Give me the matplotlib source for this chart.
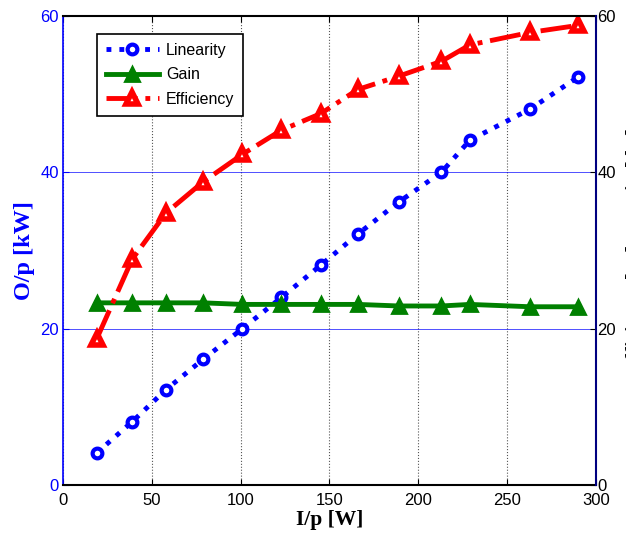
import numpy as np
import matplotlib
matplotlib.use('Agg')
import matplotlib.pyplot as plt

plt.rcParams['font.family'] = 'Liberation Sans'

# ==================== data ====================
input_w = [19, 39, 58, 79, 101, 123, 145, 166, 189, 213, 229, 263, 290]
linearity = [4.1, 8.1, 12.2, 16.1, 20.0, 24.0, 28.1, 32.1, 36.2, 40.0, 44.1, 48.1, 52.2]
gain = [23.3, 23.3, 23.3, 23.3, 23.1, 23.1, 23.1, 23.1, 22.9, 22.9, 23.1, 22.8, 22.8]
efficiency = [18.7, 28.9, 34.8, 38.8, 42.3, 45.4, 47.5, 50.6, 52.3, 54.2, 56.3, 57.9, 58.8]

x_ticks = [0, 50, 100, 150, 200, 250, 300]
y_ticks = [0, 20, 40, 60]

# ==================== figure ====================
fig = plt.figure(figsize=(6.26, 5.4), dpi=100)
ax = fig.add_axes([0.1006, 0.1019, 0.8514, 0.8685])

ax.plot(input_w, linearity, linestyle=':', color='#0000FF', lw=3.5,
        marker='o', ms=7, mfc='white', mec='#0000FF', mew=3, label='Linearity')
ax.plot(input_w, gain, linestyle='-', color='#008000', lw=3.5,
        marker='^', ms=10.5, mfc='#008000', mec='#008000', mew=2, label='Gain')
ax.plot(input_w, efficiency, linestyle='-.', color='#FF0000', lw=3.5,
        marker='^', ms=9, mfc='white', mec='#FF0000', mew=4, label='Efficiency')

ax.set_xlim(0, 300)
ax.set_ylim(0, 60)
ax.set_xticks(x_ticks)
ax.set_yticks(y_ticks)

# grid: dotted grey verticals, thin blue horizontals
ax.xaxis.grid(True, color='#555555', linestyle=':', linewidth=0.8)
ax.yaxis.grid(True, color='#0000FF', linestyle='-', linewidth=0.6, alpha=0.8)
ax.set_axisbelow(True)

ax.tick_params(axis='x', direction='in', length=4, labelsize=12, top=True, colors='black', pad=6)
ax.tick_params(axis='y', direction='in', length=4, labelsize=12, colors='#0000FF', pad=3)
ax.spines['left'].set_color('#0000FF')
ax.spines['right'].set_visible(False)
for s in ['top', 'bottom']:
    ax.spines[s].set_linewidth(1.5)
ax.spines['left'].set_linewidth(1.2)

ax.set_xlabel('I/p [W]', fontsize=15.5, fontweight='bold', family='Liberation Serif', labelpad=1)
ax.set_ylabel('O/p [kW]', fontsize=17.5, fontweight='bold', family='Liberation Serif',
              color='#0000FF', labelpad=4)

# right axis (its label is mostly cut off by the figure edge, as in the reference)
ax2 = ax.twinx()
ax2.set_ylim(0, 60)
ax2.set_yticks(y_ticks)
ax2.tick_params(axis='y', direction='in', length=4, labelsize=12, colors='black', pad=1)
ax2.spines['right'].set_color('#000080')
ax2.spines['right'].set_linewidth(1.5)
for s in ['left', 'top', 'bottom']:
    ax2.spines[s].set_visible(False)
ax2.set_ylabel('Efficiency [%] & Gain [dB]', fontsize=15, fontweight='bold',
               family='Liberation Serif', labelpad=7)

leg = ax.legend(loc='upper left', bbox_to_anchor=(0.064, 0.962), fontsize=11.5,
                handlelength=3.3, handletextpad=0.45, borderpad=0.55, labelspacing=0.6,
                borderaxespad=0, fancybox=False, edgecolor='black', framealpha=1)
leg.get_frame().set_linewidth(1.2)

fig.savefig('out.png', dpi=100)
